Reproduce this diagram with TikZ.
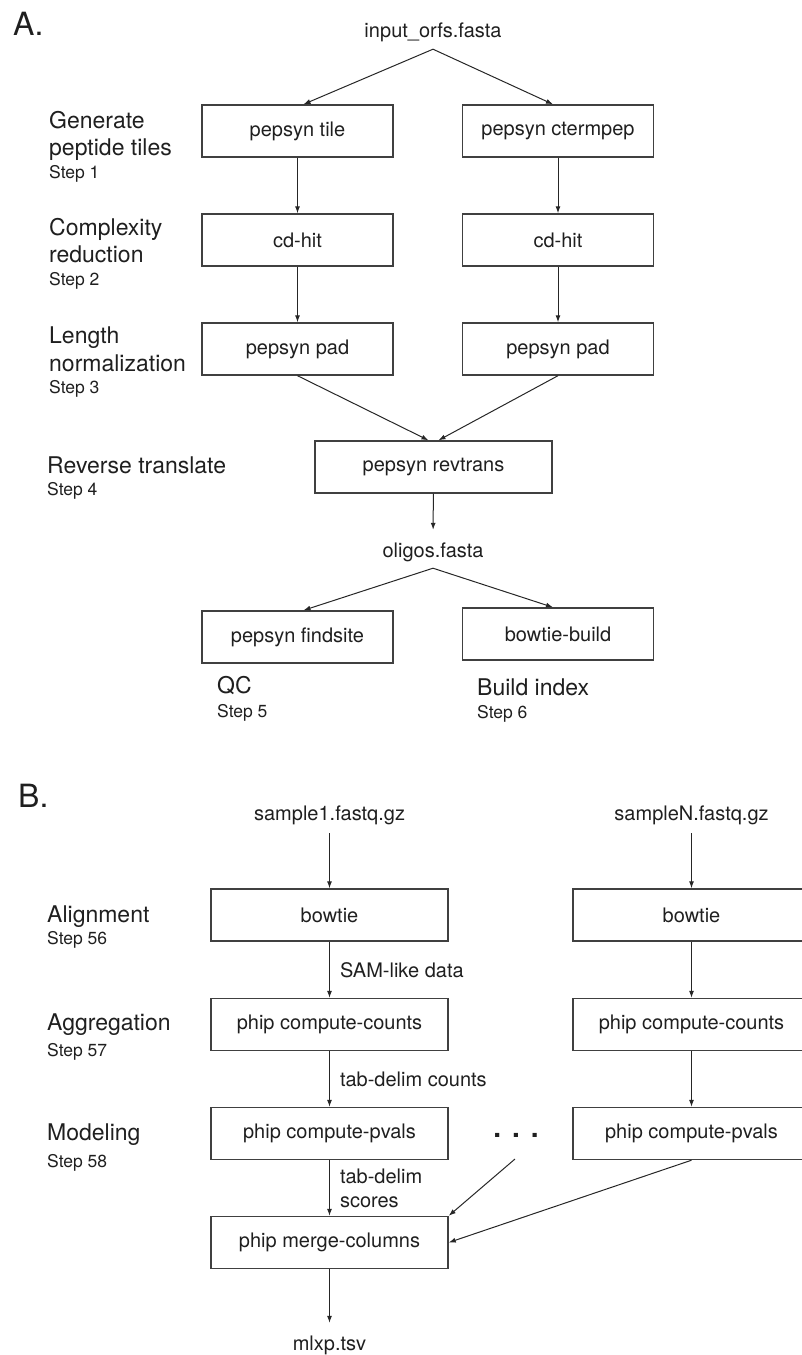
\documentclass[tikz,border=0pt]{standalone}
\usepackage{fontspec}
\setmainfont{TeX Gyre Heros}
\usetikzlibrary{arrows.meta}
\definecolor{boxc}{gray}{0.25}
\definecolor{linec}{gray}{0.15}
\definecolor{txt}{gray}{0.12}
\tikzset{
  box/.style={draw=boxc, line width=1.4pt, minimum width=191pt, minimum height=52pt, inner sep=0pt, font=\fontsize{20}{24}\selectfont, text=txt},
  wbox/.style={box, minimum width=237pt},
  arr/.style={draw=linec, line width=1pt, -{Latex[length=7pt,width=5pt]}},
  title/.style={anchor=base west, inner sep=0pt, font=\fontsize{23}{27}\selectfont, text=txt},
  steplbl/.style={anchor=base west, inner sep=0pt, font=\fontsize{17.5}{20}\selectfont, text=txt},
  file/.style={font=\fontsize{20}{24}\selectfont, text height=14pt, text depth=4pt, inner xsep=0pt, text=txt},
  elbl/.style={anchor=west, inner sep=0pt, xshift=10pt, font=\fontsize{20}{24}\selectfont, text=txt},
  panel/.style={anchor=base west, inner sep=0pt, font=\fontsize{32}{36}\selectfont, text=txt},
}
\begin{document}
\begin{tikzpicture}[x=1pt, y=-1pt]
\useasboundingbox (0,0) rectangle (801,1355);

% ---------- Panel A ----------
\node[panel] (pA) at (13,35) {A.};
\node[file, inner ysep=8pt] (in) at (433,32) {input\_orfs.fasta};

\node[box] (tile) at (297.5,131) {pepsyn tile};
\node[box] (cterm) at (558,131) {pepsyn ctermpep};
\node[box] (cd1) at (297.5,240) {cd-hit};
\node[box] (cd2) at (558,240) {cd-hit};
\node[box] (pad1) at (297.5,349) {pepsyn pad};
\node[box] (pad2) at (558,349) {pepsyn pad};
\node[wbox] (rev) at (433.5,467) {pepsyn revtrans};
\node[file, inner ysep=7pt] (olig) at (433,552) {oligos.fasta};
\node[box] (find) at (297.5,637) {pepsyn findsite};
\node[box] (bb) at (558,634) {bowtie-build};

\node[title] (gen1) at (49,128) {Generate};
\node[title] (gen2) at (49,155) {peptide tiles};
\node[steplbl] (st1) at (49,178) {Step 1};
\node[title] (cx1) at (49,235) {Complexity};
\node[title] (cx2) at (49,262) {reduction};
\node[steplbl] (st2) at (49,285) {Step 2};
\node[title] (ln1) at (49,343) {Length};
\node[title] (ln2) at (49,371) {normalization};
\node[steplbl] (st3) at (49,393) {Step 3};
\node[title] (rt) at (47,473) {Reverse translate};
\node[steplbl] (st4) at (47,495) {Step 4};
\node[title] (qc) at (217,693) {QC};
\node[steplbl] (st5) at (217,717) {Step 5};
\node[title] (bi) at (477,695) {Build index};
\node[steplbl] (st6) at (477,718) {Step 6};

\draw[arr] (in.south) -- ([xshift=6pt]tile.north);
\draw[arr] (in.south) -- ([xshift=-5pt]cterm.north);
\draw[arr] (tile) -- (cd1);
\draw[arr] (cterm) -- (cd2);
\draw[arr] (cd1) -- (pad1);
\draw[arr] (cd2) -- (pad2);
\draw[arr] (pad1.south) -- ([xshift=-5pt]rev.north);
\draw[arr] (pad2.south) -- ([xshift=5pt]rev.north);
\draw[arr, shorten >=6pt] (rev) -- (olig);
\draw[arr] (olig.south) -- ([xshift=6pt]find.north);
\draw[arr] (olig.south) -- ([xshift=-5pt]bb.north);

% ---------- Panel B ----------
\node[panel] (pB) at (18,807) {B.};
\node[file, inner ysep=9pt] (s1) at (329.5,815) {sample1.fastq.gz};
\node[file, inner ysep=9pt] (sN) at (691.5,815) {sampleN.fastq.gz};
\node[wbox] (bt1) at (329.5,915) {bowtie};
\node[wbox] (btN) at (691.5,915) {bowtie};
\node[wbox] (cc1) at (329.5,1024.5) {phip compute-counts};
\node[wbox] (ccN) at (691.5,1024.5) {phip compute-counts};
\node[wbox] (pv1) at (329.5,1133.5) {phip compute-pvals};
\node[wbox] (pvN) at (691.5,1133.5) {phip compute-pvals};
\node[wbox] (mc) at (329.5,1242.5) {phip merge-columns};
\node[file, inner ysep=13pt] (ml) at (329.5,1345) {mlxp.tsv};
\node[anchor=base, inner sep=0pt, font=\fontsize{28}{28}\selectfont\bfseries, text=txt] (dots) at (516,1137) {.\hspace{11pt}.\hspace{11pt}.};
\coordinate (dfoot) at (515,1159);

\node[title] (al) at (47,922) {Alignment};
\node[steplbl] (st56) at (47,944) {Step 56};
\node[title] (ag) at (47,1030) {Aggregation};
\node[steplbl] (st57) at (47,1056) {Step 57};
\node[title] (mo) at (47,1140) {Modeling};
\node[steplbl] (st58) at (47,1167) {Step 58};

\draw[arr] (s1) -- (bt1);
\draw[arr] (sN) -- (btN);
\draw[arr] (bt1) -- node[elbl] {SAM-like data} (cc1);
\draw[arr] (btN) -- (ccN);
\draw[arr] (cc1) -- node[elbl] {tab-delim counts} (pv1);
\draw[arr] (ccN) -- (pvN);
\draw[arr] (pv1) -- node[elbl, align=left] {tab-delim\\scores} (mc);
\draw[arr] (dfoot) -- (mc.north east);
\draw[arr] (pvN.south) -- (mc.east);
\draw[arr] (mc) -- (ml);
\end{tikzpicture}
\end{document}
